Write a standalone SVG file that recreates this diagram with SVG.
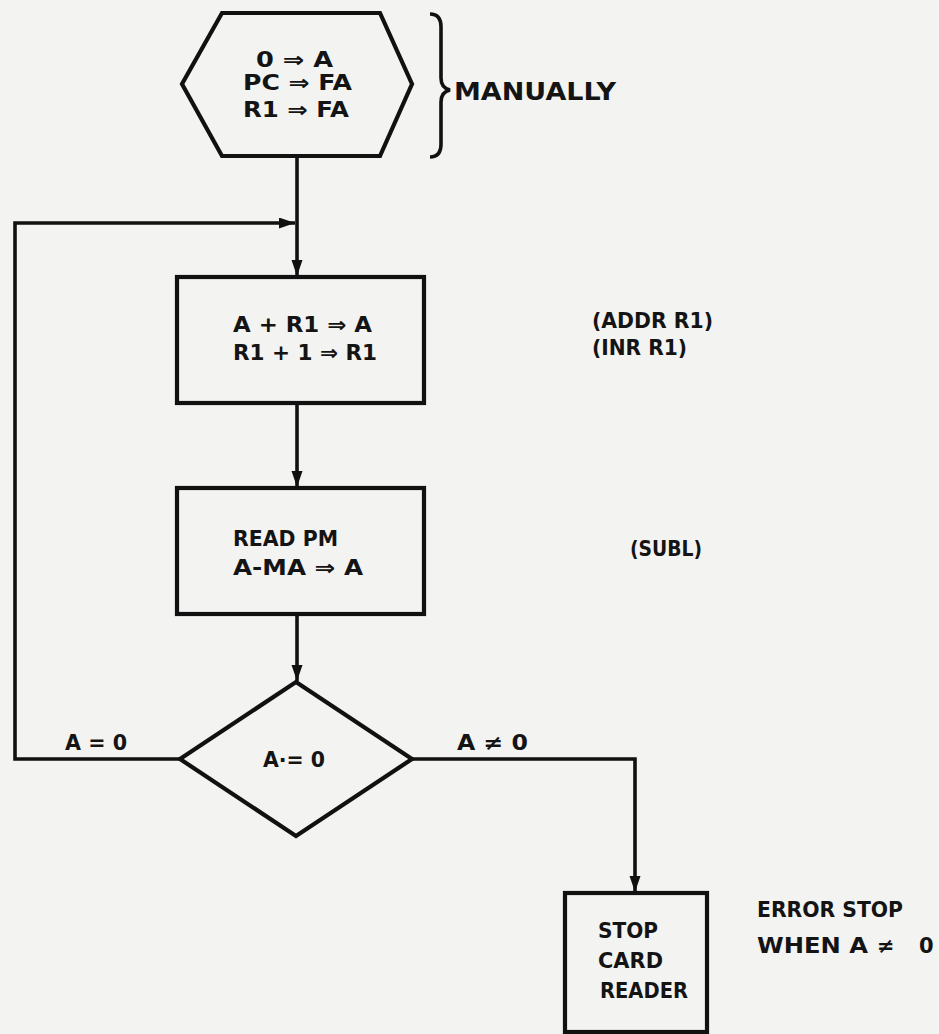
<svg xmlns="http://www.w3.org/2000/svg" width="939" height="1034" viewBox="0 0 939 1034">
<style>
.shape{fill:none;stroke:#111;stroke-width:4.2;stroke-linejoin:miter}
.conn{fill:none;stroke:#111;stroke-width:3.6}
.t{font-family:"DejaVu Sans","Liberation Sans",sans-serif;font-weight:bold;font-size:21px;fill:#141414}
</style>
<defs>
<marker id="arr" markerUnits="userSpaceOnUse" markerWidth="17" markerHeight="12" refX="16" refY="5.5" orient="auto">
<path d="M0,0 L16,5.5 L0,11 Z" fill="#111"/>
</marker>
</defs>
<rect width="939" height="1034" fill="#f3f3f1"/>
<g id="connectors">
<path class="conn" d="M297,156 V276" marker-end="url(#arr)"/>
<path class="conn" d="M180,759 H15 V223 H295" marker-end="url(#arr)"/>
<path class="conn" d="M297,403 V487" marker-end="url(#arr)"/>
<path class="conn" d="M297,614 V681" marker-end="url(#arr)"/>
<path class="conn" d="M412,759 H635 V892" marker-end="url(#arr)"/>
</g>
<g id="start">
<polygon class="shape" points="222,13 380,13 412,84 380,156 222,156 182,84"/>
<text class="t" x="256" y="67" textLength="77" lengthAdjust="spacingAndGlyphs">0 ⇒ A</text>
<text class="t" x="243" y="90" textLength="109" lengthAdjust="spacingAndGlyphs">PC ⇒ FA</text>
<text class="t" x="243" y="117" textLength="106" lengthAdjust="spacingAndGlyphs">R1 ⇒ FA</text>
</g>
<g id="manually">
<path class="conn" d="M430,14 Q441,14 441,27 V78 Q441,88 450,90 Q441,92 441,102 V144 Q441,157 430,157" stroke-width="3.6"/>
<text class="t" x="454" y="100" textLength="162" lengthAdjust="spacingAndGlyphs" style="font-size:24px">MANUALLY</text>
</g>
<g id="add">
<rect class="shape" x="177" y="277" width="247" height="126"/>
<text class="t" x="233" y="332" textLength="139" lengthAdjust="spacingAndGlyphs">A + R1 ⇒ A</text>
<text class="t" x="233" y="360" textLength="144" lengthAdjust="spacingAndGlyphs">R1 + 1 ⇒ R1</text>
</g>
<g id="addnote">
<text class="t" x="592" y="328" textLength="121" lengthAdjust="spacingAndGlyphs">(ADDR R1)</text>
<text class="t" x="592" y="355" textLength="95" lengthAdjust="spacingAndGlyphs">(INR R1)</text>
</g>
<g id="read">
<rect class="shape" x="177" y="488" width="247" height="126"/>
<text class="t" x="233" y="546" textLength="105" lengthAdjust="spacingAndGlyphs">READ PM</text>
<text class="t" x="233" y="575" textLength="130" lengthAdjust="spacingAndGlyphs">A-MA ⇒ A</text>
</g>
<g id="subl">
<text class="t" x="630" y="556" textLength="72" lengthAdjust="spacingAndGlyphs">(SUBL)</text>
</g>
<g id="decision">
<polygon class="shape" points="296,682 412,759 296,836 180,759"/>
<text class="t" x="263" y="767" textLength="62" lengthAdjust="spacingAndGlyphs">A·= 0</text>
</g>
<g id="labels">
<text class="t" x="65" y="750" textLength="62" lengthAdjust="spacingAndGlyphs">A = 0</text>
<text class="t" x="457" y="750" textLength="71" lengthAdjust="spacingAndGlyphs">A ≠ 0</text>
</g>
<g id="stop">
<rect class="shape" x="565" y="893" width="142" height="139"/>
<text class="t" x="598" y="938" textLength="60" lengthAdjust="spacingAndGlyphs">STOP</text>
<text class="t" x="598" y="968" textLength="65" lengthAdjust="spacingAndGlyphs">CARD</text>
<text class="t" x="600" y="998" textLength="88" lengthAdjust="spacingAndGlyphs">READER</text>
</g>
<g id="errornote">
<text class="t" x="757" y="917" textLength="146" lengthAdjust="spacingAndGlyphs">ERROR STOP</text>
<text class="t" y="953"><tspan x="757" textLength="111" lengthAdjust="spacingAndGlyphs">WHEN A</tspan><tspan x="877">≠</tspan><tspan x="919">0</tspan></text>
</g>
</svg>
